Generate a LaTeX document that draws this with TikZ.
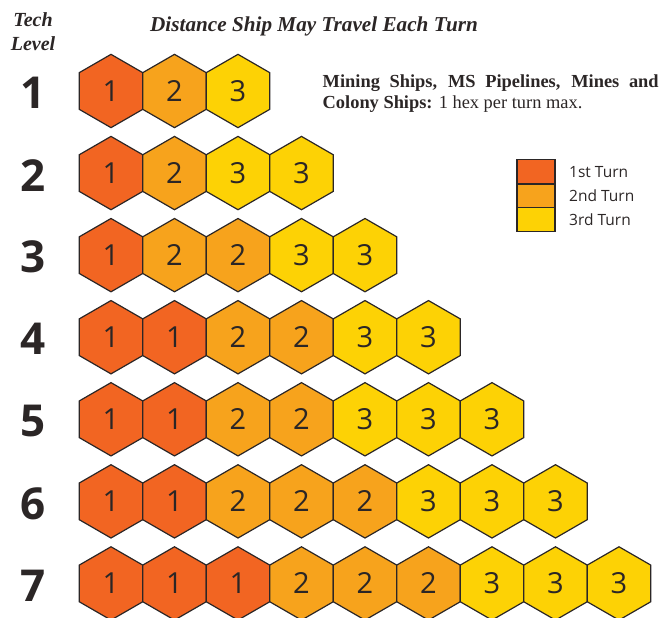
\documentclass[tikz,border=0pt]{standalone}
\usepackage{fontspec}
\setmainfont{Liberation Serif}
\newfontfamily\myr{Open Sans}
\definecolor{cA}{HTML}{F26522}
\definecolor{cB}{HTML}{F7A31C}
\definecolor{cC}{HTML}{FDD205}
\definecolor{edge}{HTML}{2B2626}
\begin{document}
\begin{tikzpicture}[x=1pt,y=-1pt,
  hexline/.style={draw=edge,line width=1.2pt,line join=miter},
  hexnum/.style={inner sep=0pt,font=\myr\fontsize{29}{29}\selectfont,text=edge},
  rowlbl/.style={inner sep=0pt,font=\myr\bfseries\fontsize{44}{44}\selectfont,text=edge},
  serifbi/.style={inner sep=0pt,font=\bfseries\itshape\fontsize{20}{20}\selectfont,text=edge},
  legbox/.style={draw=edge,line width=1.2pt},
  legtxt/.style={inner sep=0pt,anchor=west,font=\myr\fontsize{15.5}{15.5}\selectfont,text=edge}]
\useasboundingbox (0,0) rectangle (664,618);
\def\R{36.66}
% headings
\node[serifbi,anchor=base] (tech) at (33,26.7) {Tech};
\node[serifbi,anchor=base] (level) at (33,50.5) {Level};
\node[serifbi,anchor=base,font=\bfseries\itshape\fontsize{21.2}{21.2}\selectfont] (title) at (314,31.5) {Distance Ship May Travel Each Turn};
% note
\node[inner sep=0pt,anchor=base west,font=\fontsize{18.4}{18.4}\selectfont,text=edge] (note1) at (322.5,87.3)
  {\makebox[336pt][s]{\bfseries Mining Ships, MS Pipelines, Mines and}};
\node[inner sep=0pt,anchor=base west,font=\fontsize{18.4}{18.4}\selectfont,text=edge] (note2) at (322.5,108)
  {\textbf{Colony Ships:} 1 hex per turn max.};
% legend
\draw[legbox,fill=cA] (517,159.3) rectangle (555,184) coordinate (lg1);
\draw[legbox,fill=cB] (517,184) rectangle (555,207.7);
\draw[legbox,fill=cC] (517,207.7) rectangle (555,231.7);
\node[legtxt] (t1) at (569,172) {1st Turn};
\node[legtxt] (t2) at (569,196) {2nd Turn};
\node[legtxt] (t3) at (569,220) {3rd Turn};
% rows
\foreach \row/\list in {1/{1,2,3},2/{1,2,3,3},3/{1,2,2,3,3},4/{1,1,2,2,3,3},5/{1,1,2,2,3,3,3},6/{1,1,2,2,2,3,3,3},7/{1,1,1,2,2,2,3,3,3}}{
  \pgfmathsetmacro\cy{91+82.07*(\row-1)}
  \node[rowlbl] (r\row) at (33,\cy+2) {\row};
  \foreach \v [count=\i] in \list {
    \pgfmathsetmacro\cx{111+63.5*(\i-1)}
    \ifcase\v\or\def\fc{cA}\or\def\fc{cB}\or\def\fc{cC}\fi
    \draw[hexline,fill=\fc] (\cx,\cy) +(90:\R) -- +(150:\R) -- +(210:\R) -- +(270:\R) -- +(330:\R) -- +(30:\R) -- cycle;
    \node[hexnum] (h\row-\i) at (\cx,\cy) {\v};
  }
}
\end{tikzpicture}
\end{document}
